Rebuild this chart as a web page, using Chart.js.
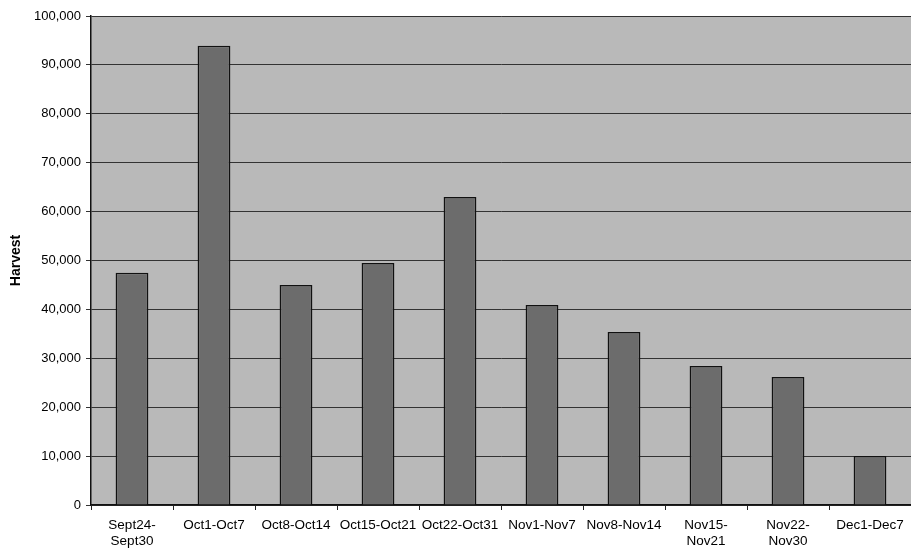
<!DOCTYPE html>
<html>
<head>
<meta charset="utf-8">
<script src="https://cdn.jsdelivr.net/npm/chart.js@4"></script>
<style>
  html, body { margin: 0; padding: 0; background: #ffffff; }
  #wrap { width: 911px; height: 550px; }
</style>
</head>
<body>
<div id="wrap"><canvas id="c" width="911" height="550"></canvas></div>
<script>
// Weekly harvest totals
const periods = [
  ['Sept24-', 'Sept30'], 'Oct1-Oct7', 'Oct8-Oct14', 'Oct15-Oct21', 'Oct22-Oct31',
  'Nov1-Nov7', 'Nov8-Nov14', ['Nov15-', 'Nov21'], ['Nov22-', 'Nov30'], 'Dec1-Dec7'
];
const harvest = [47500, 93900, 45000, 49500, 63000, 40900, 35400, 28400, 26200, 10000];
const yTicks = [0, 10000, 20000, 30000, 40000, 50000, 60000, 70000, 80000, 90000, 100000];

// Grey fill behind the plotting area
const plotBackground = {
  id: 'plotBackground',
  beforeDraw(chart) {
    const { ctx, chartArea: a } = chart;
    ctx.save();
    ctx.fillStyle = '#b9b9b9';
    ctx.fillRect(a.left, a.top, a.right - a.left, a.bottom - a.top);
    ctx.restore();
  }
};

const family = '"Liberation Sans", Arial, sans-serif';

new Chart(document.getElementById('c'), {
  type: 'bar',
  data: {
    labels: periods,
    datasets: [{
      data: harvest,
      backgroundColor: '#6c6c6c',
      borderColor: '#111111',
      borderWidth: 1.5,
      categoryPercentage: 1,
      barPercentage: 0.4
    }]
  },
  options: {
    responsive: false,
    animation: false,
    layout: { padding: { top: 16, right: 0, bottom: 0, left: 0 } },
    plugins: { legend: { display: false }, tooltip: { enabled: false } },
    scales: {
      x: {
        grid: { offset: true, drawOnChartArea: false, drawTicks: true, tickLength: 5, color: '#222', lineWidth: 1 },
        border: { display: true, color: '#111', width: 1.5 },
        ticks: { color: '#000', font: { family, size: 13.5, lineHeight: 1.2 }, padding: 7, maxRotation: 0, autoSkip: false },
        afterFit(scale) { scale.height = 45; }
      },
      y: {
        min: 0,
        max: 100000,
        afterBuildTicks(scale) { scale.ticks = yTicks.map(v => ({ value: v })); },
        grid: { color: '#333333', lineWidth: 1, tickLength: 5, drawTicks: true },
        border: { display: true, color: '#111', width: 1.5 },
        ticks: {
          color: '#000',
          font: { family, size: 13 },
          padding: 5,
          callback: v => v.toLocaleString('en-US')
        },
        title: {
          display: true,
          text: 'Harvest',
          color: '#000',
          font: { family, size: 14, weight: 'bold' },
          padding: { top: 8, bottom: 0 }
        },
        afterFit(scale) { scale.width = 91; }
      }
    }
  },
  plugins: [plotBackground]
});
</script>
</body>
</html>
